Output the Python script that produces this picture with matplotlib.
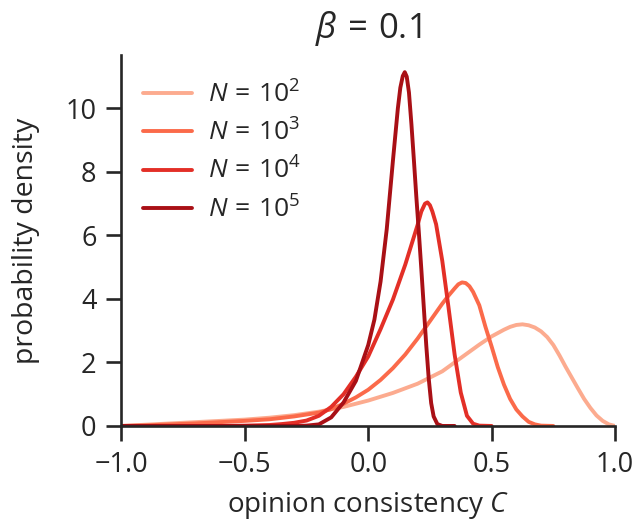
import matplotlib
matplotlib.use("Agg")
import matplotlib.pyplot as plt

# ---------------------------------------
# values
# ---------------------------------------

labels = [r"$N\,=\,10^{2}$", r"$N\,=\,10^{3}$", r"$N\,=\,10^{4}$", r"$N\,=\,10^{5}$"]
colors = ["#fcab8f", "#fb6a4a", "#e32f27", "#a91016"]

x_n2 = [-1.0, -0.9, -0.8, -0.7, -0.6, -0.5, -0.4, -0.3, -0.2, -0.1, 0.0, 0.1, 0.2, 0.3,
        0.4, 0.45, 0.5, 0.55, 0.575, 0.6, 0.625, 0.65, 0.675, 0.7, 0.725, 0.75, 0.775,
        0.8, 0.825, 0.85, 0.875, 0.9, 0.925, 0.95, 0.975, 1.0]
y_n2 = [0.0, 0.04, 0.08, 0.12, 0.16, 0.20, 0.26, 0.34, 0.45, 0.60, 0.80, 1.04, 1.33, 1.72,
        2.28, 2.56, 2.82, 3.03, 3.12, 3.18, 3.20, 3.17, 3.10, 2.98, 2.80, 2.55, 2.22,
        1.86, 1.52, 1.18, 0.85, 0.57, 0.33, 0.16, 0.05, 0.0]

x_n3 = [-1.0, -0.9, -0.8, -0.7, -0.6, -0.5, -0.4, -0.3, -0.2, -0.15, -0.1, -0.05, 0.0,
        0.05, 0.1, 0.15, 0.2, 0.25, 0.3, 0.325, 0.35, 0.365, 0.38, 0.395, 0.41, 0.425,
        0.45, 0.475, 0.5, 0.525, 0.55, 0.575, 0.6, 0.625, 0.65, 0.675, 0.7, 0.75]
y_n3 = [0.0, 0.02, 0.05, 0.08, 0.12, 0.16, 0.21, 0.30, 0.42, 0.53, 0.70, 0.90, 1.14,
        1.45, 1.82, 2.25, 2.75, 3.30, 3.85, 4.10, 4.33, 4.46, 4.52, 4.50, 4.40, 4.22,
        3.80, 3.12, 2.50, 1.85, 1.30, 0.85, 0.52, 0.30, 0.13, 0.05, 0.01, 0.0]

x_n4 = [-1.0, -0.6, -0.5, -0.4, -0.35, -0.3, -0.25, -0.2, -0.15, -0.1, -0.05, 0.0, 0.05,
        0.1, 0.15, 0.2, 0.215, 0.23, 0.24, 0.25, 0.26, 0.275, 0.3, 0.325, 0.35, 0.375,
        0.4, 0.425, 0.45, 0.5]
y_n4 = [0.0, 0.0, 0.01, 0.03, 0.06, 0.10, 0.17, 0.32, 0.60, 1.00, 1.55, 2.19, 3.05,
        3.98, 5.08, 6.33, 6.75, 7.00, 7.04, 6.95, 6.75, 6.35, 5.20, 3.75, 2.25, 1.05,
        0.32, 0.07, 0.01, 0.0]

x_n5 = [-1.0, -0.3, -0.25, -0.2, -0.15, -0.1, -0.05, 0.0, 0.025, 0.05, 0.075, 0.1, 0.12,
        0.13, 0.14, 0.148, 0.156, 0.165, 0.175, 0.185, 0.195, 0.205, 0.215, 0.225,
        0.235, 0.245, 0.255, 0.265, 0.28, 0.3, 0.35]
y_n5 = [0.0, 0.0, 0.01, 0.05, 0.27, 0.74, 1.42, 2.55, 3.35, 4.55, 6.20, 8.35, 10.0,
        10.65, 11.02, 11.14, 11.0, 10.50, 9.50, 8.37, 7.20, 6.10, 4.95, 3.75,
        2.55, 1.50, 0.72, 0.30, 0.06, 0.0, 0.0]

x_ticks = [-1.0, -0.5, 0.0, 0.5, 1.0]
y_ticks = [0, 2, 4, 6, 8, 10]

# ---------------------------------------

def main():
    plt.rcParams["font.family"] = ["Open Sans", "DejaVu Sans"]
    plt.rcParams["mathtext.fontset"] = "custom"
    plt.rcParams["mathtext.rm"] = "Open Sans"
    plt.rcParams["mathtext.it"] = "Open Sans:italic"
    plt.rcParams["text.color"] = "#262626"
    plt.rcParams["axes.labelcolor"] = "#262626"
    plt.rcParams["xtick.color"] = "#262626"
    plt.rcParams["ytick.color"] = "#262626"

    fig = plt.figure(figsize=(6.36, 5.22), dpi=100)
    ax = fig.add_axes([0.191, 0.184, 0.776, 0.7106])

    curves = [(x_n2, y_n2), (x_n3, y_n3), (x_n4, y_n4), (x_n5, y_n5)]
    for (xs, ys), col, lab in zip(curves, colors, labels):
        ax.plot(xs, ys, color=col, lw=2.8, label=lab,
                solid_capstyle="round", solid_joinstyle="round")

    ax.set_xlim(-1, 1)
    ax.set_ylim(0, 11.68)
    ax.set_xticks(x_ticks)
    ax.set_yticks(y_ticks)
    ax.tick_params(labelsize=19.5, length=11, width=1.9, pad=7)

    for side in ["top", "right"]:
        ax.spines[side].set_visible(False)
    for side in ["left", "bottom"]:
        ax.spines[side].set_linewidth(1.9)
        ax.spines[side].set_color("#262626")

    ax.set_title(r"$\beta\,=\,0.1$", fontsize=25, pad=12)
    ax.set_xlabel(r"opinion consistency $C$", fontsize=20, labelpad=8)
    ax.set_ylabel("probability density", fontsize=20.5)
    ax.yaxis.set_label_coords(-0.165, 0.5)

    ax.legend(loc="upper left", bbox_to_anchor=(0.022, 0.958), frameon=False,
              fontsize=19, handlelength=1.85, handletextpad=0.6, labelspacing=0.42,
              borderaxespad=0)

    fig.savefig("out.png", dpi=100)

# ---------------------------------------

if __name__ == "__main__":
    main()
